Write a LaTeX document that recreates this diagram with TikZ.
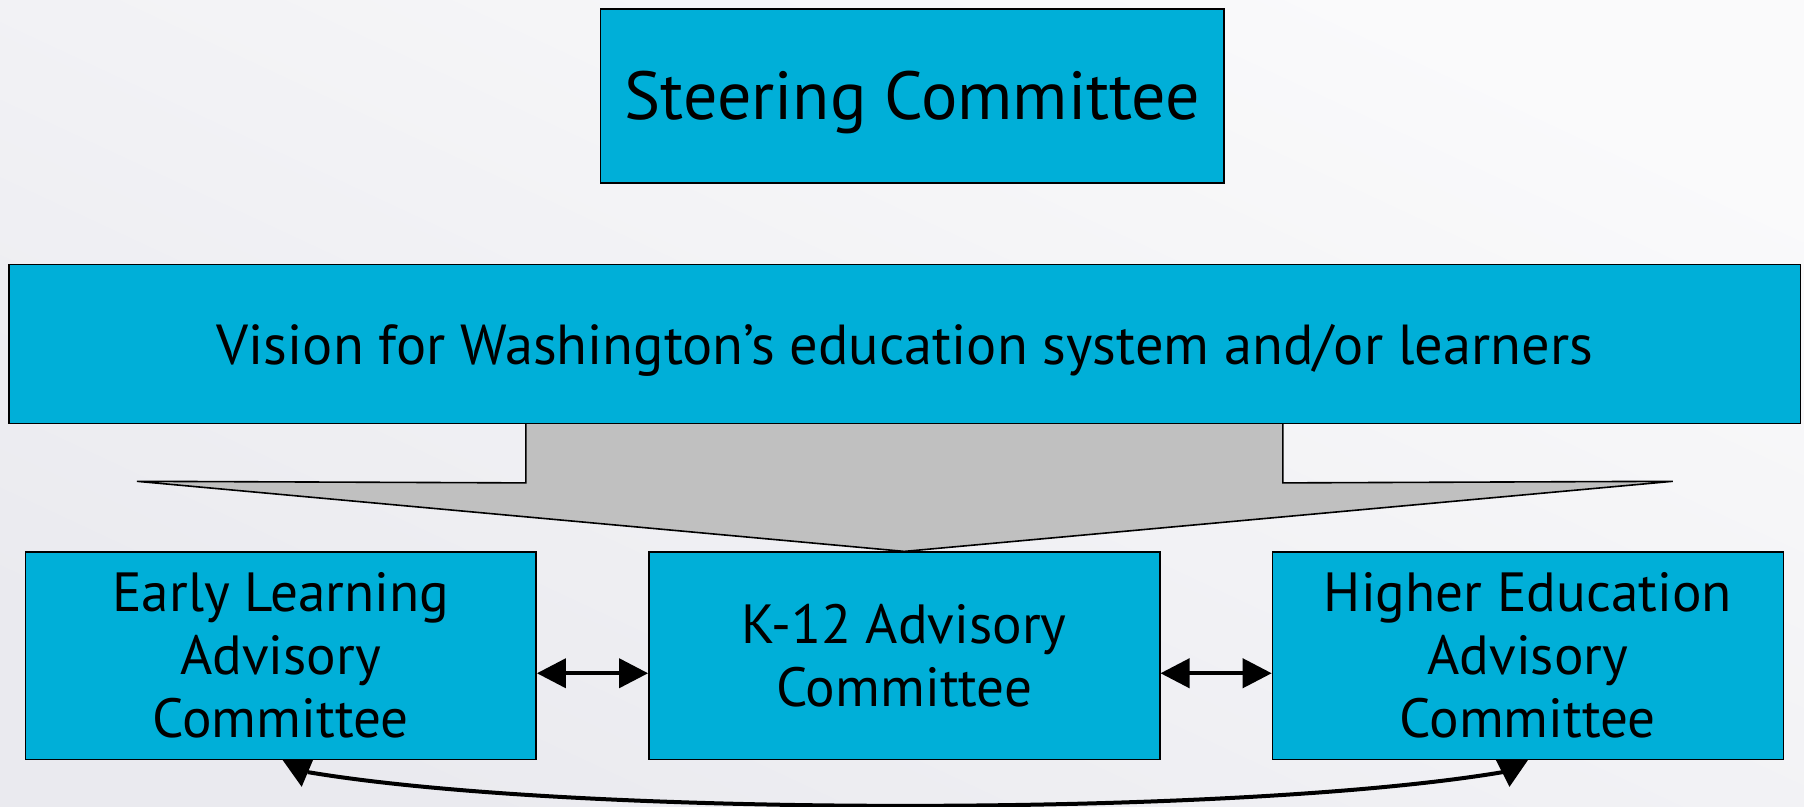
\documentclass[tikz,border=0pt]{standalone}
\usepackage{fontspec}
\setmainfont{PT Sans}
\usetikzlibrary{arrows.meta,calc}
\definecolor{boxblue}{RGB}{0,175,216}
\definecolor{arrowgray}{RGB}{192,192,192}
\definecolor{bgtop}{RGB}{250,250,251}
\definecolor{bgbot}{RGB}{234,234,239}
\pgfdeclarelayer{bgshade}
\pgfdeclarelayer{bgarrow}
\pgfsetlayers{bgshade,bgarrow,main}
\newcommand{\boxlines}[2]{\raisebox{-#1}[\height][\depth]{\begin{tabular}{@{}c@{}}#2\end{tabular}}}
\begin{document}
\begin{tikzpicture}[x=0.5pt,y=-0.5pt,
  box/.style={draw=black,line width=0.8pt,fill=boxblue,inner sep=0pt,
    text=black,font=\fontsize{27.6}{31.5}\selectfont},
  bottombox/.style={box,minimum width=255.4pt,minimum height=103.55pt},
  link/.style={line width=2pt,{Triangle[length=14.5pt,width=14.5pt]}-{Triangle[length=14.5pt,width=14.5pt]}},
  loopline/.style={line width=2pt},
  loophead/.style={fill=black,draw=none}]
\begin{pgfonlayer}{bgshade}
\shade[top color=bgtop,bottom color=bgbot,shading angle=-25]
  (0,807) rectangle (1804,0);
\end{pgfonlayer}
\useasboundingbox (0,0) rectangle (1804,807);

\node[box,minimum width=311.75pt,minimum height=86.85pt,font=\fontsize{34}{40}\selectfont] (steer) at (912.4,96) {\boxlines{3.9pt}{Steering Committee}};
\node[box,minimum width=895.65pt,minimum height=79.4pt,font=\fontsize{28.2}{32}\selectfont] (vision) at (904.9,344) {\boxlines{4.1pt}{Vision for Washington’s education system and/or learners}};
\node[bottombox] (early) at (280.7,655.75) {\boxlines{3.3pt}{Early Learning\\Advisory\\Committee}};
\node[bottombox] (k12) at (904.3,655.75) {\boxlines{3.5pt}{K-12 Advisory\\Committee}};
\node[bottombox] (higher) at (1527.9,655.75) {\boxlines{3.3pt}{Higher Education\\Advisory\\Committee}};

\begin{pgfonlayer}{bgarrow}
\draw[fill=arrowgray,line width=0.8pt]
  ($(vision.south)+(-379.1,0)$) -- ++(0,58.7) -- ($(k12.north)+(-767.4,-70.1)$) -- (k12.north)
  -- ($(k12.north)+(768.5,-70.1)$) -- ($(vision.south)+(377.9,58.7)$) -- ($(vision.south)+(377.9,0)$);
\end{pgfonlayer}

\draw[link] ($(early.east)+(0,17.5)$) -- ($(k12.west)+(0,17.5)$);
\draw[link] ($(k12.east)+(0,17.5)$) -- ($(higher.west)+(0,17.5)$);

\draw[loopline] ($(early.south)+(27,12)$) .. controls +(267,45) and +(-267,45) .. ($(higher.south)+(-25,12)$);
\fill[loophead] ($(early.south)+(2,0)$) -- ($(early.south)+(32.3,0)$) -- ($(early.south)+(21,26.7)$) -- cycle;
\fill[loophead] ($(higher.south)+(-32,0)$) -- ($(higher.south)+(0,0)$) -- ($(higher.south)+(-18.4,26.7)$) -- cycle;
\end{tikzpicture}
\end{document}
